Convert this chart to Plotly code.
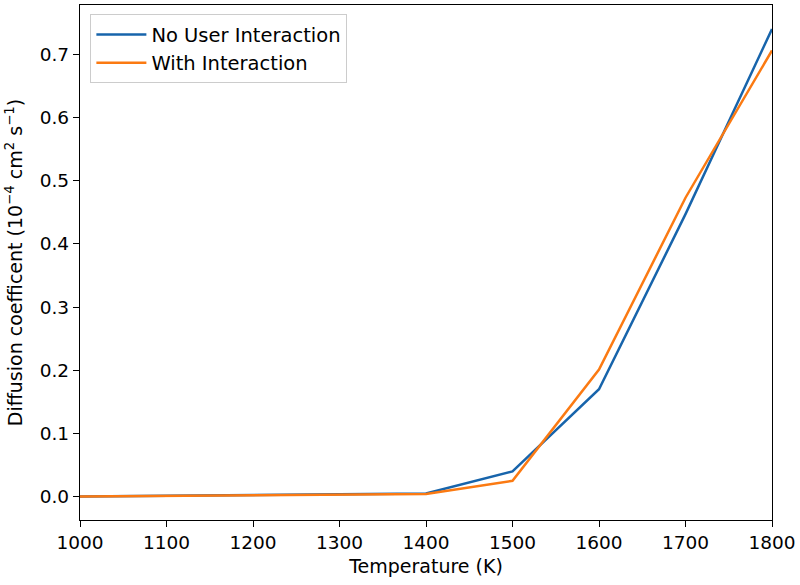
import plotly.graph_objects as go

temperature = [1000, 1100, 1200, 1300, 1400, 1500, 1600, 1700, 1800]
no_user_interaction = [0.0, 0.001, 0.002, 0.003, 0.005, 0.040, 0.170, 0.447, 0.740]
with_interaction = [0.0, 0.0008, 0.0015, 0.0025, 0.004, 0.025, 0.201, 0.473, 0.706]
x_ticks = [1000, 1100, 1200, 1300, 1400, 1500, 1600, 1700, 1800]
y_ticks = [0.0, 0.1, 0.2, 0.3, 0.4, 0.5, 0.6, 0.7]

fig = go.Figure()
fig.add_trace(go.Scatter(x=temperature, y=no_user_interaction, mode="lines",
                         name="No User Interaction", line=dict(color="#1764ab", width=2.5)))
fig.add_trace(go.Scatter(x=temperature, y=with_interaction, mode="lines",
                         name="With Interaction", line=dict(color="#fb7a12", width=2.5)))

axis_common = dict(showline=True, linecolor="black", linewidth=1.3, mirror=True,
                   ticks="outside", ticklen=6, tickwidth=1.3, tickcolor="black",
                   showgrid=False, zeroline=False, automargin=False,
                   tickfont=dict(family="DejaVu Sans", size=18.5, color="black"))

fig.update_layout(
    width=800, height=585,
    margin=dict(l=80, r=28, t=5, b=65),
    paper_bgcolor="white", plot_bgcolor="white",
    font=dict(family="DejaVu Sans", size=19, color="black"),
    xaxis=dict(range=[1000, 1800], tickvals=x_ticks,
               title=dict(text="Temperature (K)", font=dict(size=19), standoff=7),
               **axis_common),
    yaxis=dict(range=[-0.037, 0.778], tickvals=y_ticks, tickformat=".1f",
               title=dict(text="Diffusion coefficent (10<sup>\u22124</sup> cm<sup>2</sup> s<sup>\u22121</sup>)",
                          font=dict(size=19), standoff=12),
               **axis_common),
    legend=dict(x=0.015, y=0.982, xanchor="left", yanchor="top",
                bgcolor="rgba(255,255,255,0.8)", bordercolor="#cccccc", borderwidth=1,
                font=dict(family="DejaVu Sans", size=19.5, color="black"),
                tracegroupgap=2, itemwidth=50),
    showlegend=True,
)

fig.write_html("out.html", config={"displayModeBar": False},
               post_script="document.body.style.margin='0px';document.body.style.overflow='hidden';")
